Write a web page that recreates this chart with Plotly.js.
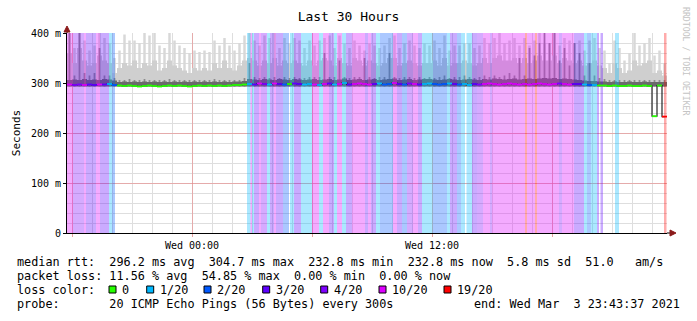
<!DOCTYPE html>
<html><head><meta charset="utf-8">
<script src="https://cdn.plot.ly/plotly-3.0.1.min.js"></script>
<style>html,body{margin:0;padding:0;background:#fff}#chart{width:697px;height:321px}</style>
</head><body><div id="chart"></div>
<script>
// ---------- DATA ----------
const startTime = '2021-03-02T17:45:00Z';
const spanHours = 30;
const binMinutes = 15;
const smokeFloor = 293;
const smokeMax = [400,370,400,385,365,375,400,390,380,350,
 365,397,385,385,380,400,395,400,375,370,400,385,375,370,360,365,
 362,365,362,385,375,390,375,365,380,395,400,385,375,395,390,400,370,390,380,390,385,370,
 385,375,385,390,395,370,395,380,370,385,375,365,380,375,370,375,390,395,370,380,385,375,370,380,
 375,385,370,395,365,375,375,380,380,370,375,390,380,390,400,380,385,390,375,390,375,385,400,380,
 380,400,375,390,385,380,385,365,385,390,370,365,340,385,370,345,360,400,375,380,390,355,365,340];
const smokeMid = [360,340,370,345,335,340,355,345,340,320,
 330,340,335,345,330,340,335,345,325,330,345,335,330,325,320,330,
 325,330,325,340,330,345,330,325,335,345,350,345,335,345,340,350,335,345,340,345,340,335,
 345,335,345,350,345,335,350,340,335,350,345,335,345,340,335,340,350,350,335,340,345,340,335,340,
 340,345,335,350,335,340,340,345,340,335,340,350,340,350,355,345,345,350,340,350,340,345,355,345,
 345,355,340,350,345,340,345,335,340,345,335,330,320,340,330,320,325,345,335,340,345,320,325,315];
const smokeDark = [400,315,400,320,315,320,370,315,315,310,
 306,306,308,306,306,308,306,306,306,306,308,306,306,306,306,306,
 306,306,306,308,306,306,306,306,306,310,340,312,310,312,310,312,310,312,310,312,310,310,
 312,312,312,360,312,312,345,312,310,312,312,350,312,310,312,312,360,312,310,312,312,310,312,310,
 312,310,312,315,310,312,312,315,312,310,312,315,312,315,312,315,320,315,350,315,370,355,380,400,
 380,400,345,370,335,380,360,315,340,315,310,308,306,306,306,306,306,306,306,306,306,306,306,306];
const smokeBand = [306,307,306,308,306,307,306,308,307,305,
 302,303,302,303,302,303,302,303,302,303,302,303,302,303,302,303,
 302,303,302,303,302,303,302,303,303,304,308,307,306,308,307,306,308,307,306,308,307,306,
 307,308,306,307,308,306,307,309,306,307,308,306,307,308,306,307,308,309,306,307,308,306,307,308,
 308,307,306,307,308,307,306,307,308,307,306,308,307,309,308,307,308,309,307,308,309,308,309,310,
 309,310,308,309,308,307,306,305,304,304,303,303,302,303,302,302,303,302,302,303,302,302,302,302];
const medianRtt = [297,296,297,296,297,296,297,297,298,296,
 295,294,295,294,293,294,295,294,293,294,295,294,295,294,293,294,295,294,295,294,295,294,295,296,296,297,
 298,297,299,298,297,299,298,297,298,299,298,297,
 298,297,296,298,299,297,298,300,297,298,299,298,297,298,299,297,298,300,298,297,299,298,297,298,
 299,298,297,298,299,298,297,298,296,298,297,298,299,298,297,298,299,298,297,298,297,298,299,298,
 297,298,299,298,297,298,298,297,296,296,295,295,294,295,294,294,295,294,294,295,294,233.5,295,232.8];
// loss periods (hours after start) and loss level (x/20)
const lossStartH = [0.00,0.30,0.85,0.95,1.45,1.65,2.10,2.25,
 9.00,9.175,9.25,9.35,9.60,9.70,10.00,10.15,10.35,10.45,10.80,
 11.15,11.35,11.70,12.25,12.60,12.80,13.10,13.35,13.50,13.75,13.95,14.25,14.90,15.05,15.20,15.45,15.65,16.30,16.50,16.75,17.00,17.30,17.55,17.75,18.30,19.00,19.15,19.50,19.70,
 19.975,20.25,20.50,20.80,21.15,21.25,22.90,23.00,23.40,23.50,24.60,24.75,25.35,25.85,26.00,26.20,26.50,26.675,27.40,29.85];
const lossEndH = [0.30,0.85,0.95,1.45,1.65,2.10,2.25,2.40,
 9.175,9.25,9.35,9.60,9.70,10.00,10.15,10.35,10.45,10.80,11.10,
 11.35,11.70,12.25,12.60,12.80,13.10,13.35,13.50,13.75,13.95,14.25,14.90,15.05,15.20,15.45,15.65,16.30,16.50,16.75,17.00,17.30,17.55,17.75,18.30,19.00,19.15,19.50,19.70,19.90,
 20.25,20.50,20.80,21.15,21.25,22.90,23.00,23.40,23.50,24.60,24.75,25.35,25.85,26.00,26.20,26.50,26.60,26.80,27.60,29.975];
const lossLevel = [10,4,10,3,10,3,1,2,
 1,10,1,3,10,4,1,3,10,3,2,
 1,3,1,10,1,10,3,1,10,1,3,10,3,10,3,1,2,10,3,2,4,10,3,1,2,1,3,2,1,
 1,3,4,10,4,10,19,10,19,10,4,10,3,1,2,1,3,3,1,19];
const lossKeys = [0,1,2,3,4,10,19];
const lossNames = ['0','1/20','2/20','3/20','4/20','10/20','19/20'];
const lossColors = ['#26ff00','#00b8ff','#0059ff','#5e00ff','#7e00ff','#dd00ff','#ff0000'];
const xTickVals = ['2021-03-02 18:00','2021-03-03 00:00','2021-03-03 06:00','2021-03-03 12:00','2021-03-03 18:00'];
const xTickText = ['','Wed 00:00','','Wed 12:00',''];
const yTickVals = [0,100,200,300,400];
const yTickText = ['0','100 m','200 m','300 m','400 m'];
const statsLine1 = 'median rtt:  296.2 ms avg  304.7 ms max  232.8 ms min  232.8 ms now  5.8 ms sd  51.0   am/s';
const statsLine2 = 'packet loss: 11.56 % avg  54.85 % max  0.00 % min  0.00 % now';
const statsLine3 = 'loss color:';
const statsLine4 = 'probe:       20 ICMP Echo Pings (56 Bytes) every 300s';
const endLabel = 'end: Wed Mar  3 23:43:37 2021';

// ---------- BUILD ----------
const t0 = Date.parse(startTime);
const HOUR = 3600000;
const binMs = binMinutes * 60000;
const centers = medianRtt.map((_, i) => t0 + (i + 0.5) * binMs);
const nb = s => s.replace(/ /g, '\u00a0');
function rgba(hex, a) {
  const r = parseInt(hex.slice(1,3),16), g = parseInt(hex.slice(3,5),16), b = parseInt(hex.slice(5,7),16);
  return `rgba(${r},${g},${b},${a})`;
}
const colorOf = lvl => lossColors[lossKeys.indexOf(lvl)];

function smokeTrace(vals, color, frac) {
  return {type:'bar', x:centers, y:vals.map(v => v - smokeFloor), base:smokeFloor,
    width:centers.map(() => binMs*frac), marker:{color:color, line:{width:0}},
    hoverinfo:'skip', showlegend:false};
}
const traces = [
  smokeTrace(smokeMax, '#d8d8d8', 0.5),
  smokeTrace(smokeMid, '#cfcfcf', 1.0),
  smokeTrace(smokeDark, '#8c8c8c', 0.35),
  smokeTrace(smokeBand, '#6a6a6a', 1.0),
];
// loss background bands
traces.push({type:'bar',
  x: lossStartH.map((s,i) => t0 + (s + lossEndH[i]) / 2 * HOUR),
  y: lossStartH.map(() => 400), base: 0,
  width: lossStartH.map((s,i) => (lossEndH[i] - s) * HOUR),
  marker:{color: lossLevel.map(l => rgba(colorOf(l), 0.33)), line:{width:0}},
  hoverinfo:'skip', showlegend:false});
// median line: black connector + colored per-bin segments
const binLoss = centers.map(c => {
  const h = (c - t0) / HOUR;
  for (let k = 0; k < lossStartH.length; k++) if (h >= lossStartH[k] && h < lossEndH[k]) return lossLevel[k];
  return 0;
});
traces.push({type:'scatter', mode:'lines', x:centers, y:medianRtt, line:{color:'#111', width:1.1, shape:'hvh'},
  hoverinfo:'skip', showlegend:false});
lossKeys.forEach((key, ci) => {
  const xs = [], ys = [];
  medianRtt.forEach((v, i) => {
    if (binLoss[i] !== key) return;
    xs.push(t0 + i * binMs, t0 + (i + 1) * binMs, null);
    ys.push(v, v, null);
  });
  if (xs.length) traces.push({type:'scatter', mode:'lines', x:xs, y:ys, connectgaps:false,
    line:{color:lossColors[ci], width:1.8}, hoverinfo:'skip', showlegend:false});
});

// ---------- LAYOUT ----------
const L = 67, R = 667, T = 33, B = 233;
const px = x => (x - L) / (R - L);
const py = y => (B - y) / (B - T);
const mono = 'DejaVu Sans Mono, monospace';
const fs = 11.8;
const annotations = [
  {text: nb(statsLine1), x: px(14.8), y: py(262)},
  {text: nb(statsLine2), x: px(14.8), y: py(276)},
  {text: nb(statsLine3), x: px(14.8), y: py(290)},
  {text: nb(statsLine4), x: px(14.8), y: py(304)},
].map(a => Object.assign(a, {xref:'paper', yref:'paper', xanchor:'left', yanchor:'middle', showarrow:false,
  font:{family:mono, size:fs, color:'#000'}}));
annotations.push({text: nb(endLabel), x: px(681.5), y: py(304), xref:'paper', yref:'paper', xanchor:'right', yanchor:'middle',
  showarrow:false, font:{family:mono, size:fs, color:'#000'}});
const sqX = [109,146.7,204,262.7,320.7,379,444];
const shapes = [];
lossNames.forEach((n, i) => {
  shapes.push({type:'rect', xref:'paper', yref:'paper', x0:px(sqX[i]), x1:px(sqX[i]+7), y0:py(293), y1:py(286),
    fillcolor: lossColors[i], line:{color:'#000', width:1}});
  annotations.push({text: n, x: px(sqX[i]+11), y: py(290), xref:'paper', yref:'paper', xanchor:'left', yanchor:'middle',
    showarrow:false, font:{family:mono, size:fs, color:'#000'}});
});
annotations.push({text:'RRDTOOL / TOBI OETIKER', textangle:90, x:px(686), y:py(61), xref:'paper', yref:'paper',
  xanchor:'center', yanchor:'middle', showarrow:false, font:{family:mono, size:8.2, color:'#c4c4c4'}});
// axis extensions and arrows
shapes.push({type:'line', xref:'paper', yref:'paper', x0:1, x1:px(671), y0:0, y1:0, line:{color:'#000', width:1}});
shapes.push({type:'line', xref:'paper', yref:'paper', x0:0, x1:0, y0:1, y1:py(29), line:{color:'#000', width:1}});
shapes.push({type:'path', xref:'paper', yref:'paper', fillcolor:'#8b1a1a', line:{color:'#8b1a1a', width:1},
  path:`M ${px(670)} ${py(230)} L ${px(676)} ${py(233)} L ${px(670)} ${py(236)} Z`});
shapes.push({type:'path', xref:'paper', yref:'paper', fillcolor:'#8b1a1a', line:{color:'#8b1a1a', width:1},
  path:`M ${px(64)} ${py(32)} L ${px(67)} ${py(26)} L ${px(70)} ${py(32)} Z`});

const layout = {
  width:697, height:321, autosize:false,
  margin:{l:L, r:697-R, t:T, b:321-B, pad:0},
  paper_bgcolor:'#fff', plot_bgcolor:'#fff',
  barmode:'overlay', showlegend:false, hovermode:false,
  title:{text:'Last 30 Hours', font:{family:mono, size:13, color:'#000'}, xref:'container', yref:'container',
    x:0.5, y:1-16/321, xanchor:'center', yanchor:'middle'},
  xaxis:{type:'date', range:[t0, t0 + spanHours*HOUR], tickmode:'array', tickvals:xTickVals, ticktext:xTickText,
    showgrid:true, gridcolor:'rgba(235,120,120,0.5)', gridwidth:1, zeroline:false,
    showline:true, linecolor:'#000', linewidth:1, ticks:'outside', ticklen:3, tickcolor:'rgba(220,100,100,0.6)',
    tickfont:{family:mono, size:10, color:'#000'},
    minor:{dtick:HOUR, tick0:'2021-03-02 18:00', showgrid:true, gridcolor:'#dedede', gridwidth:1, ticks:''}},
  yaxis:{range:[0,400], tickmode:'array', tickvals:yTickVals, ticktext:yTickText,
    showgrid:true, gridcolor:'rgba(235,120,120,0.5)', gridwidth:1, zeroline:false,
    showline:true, linecolor:'#000', linewidth:1, ticks:'outside', ticklen:3, tickcolor:'#000',
    tickfont:{family:mono, size:10, color:'#000'},
    title:{text:'Seconds', font:{family:mono, size:11, color:'#000'}, standoff:8},
    minor:{dtick:20, tick0:0, showgrid:true, gridcolor:'#dedede', gridwidth:1, ticks:''}},
  annotations: annotations,
  shapes: shapes
};
Plotly.newPlot('chart', traces, layout, {staticPlot:true, displayModeBar:false});
</script></body></html>
